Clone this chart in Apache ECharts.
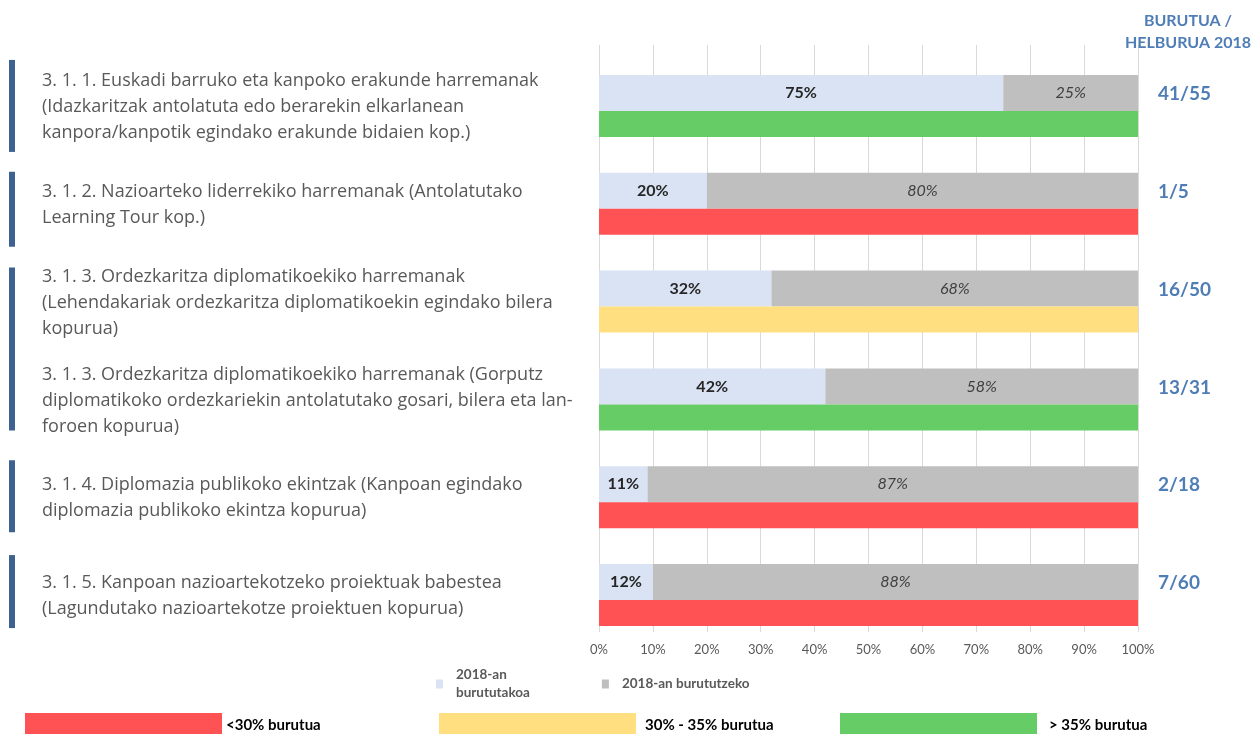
<!DOCTYPE html>
<html>
<head>
<meta charset="utf-8">
<script src="https://cdn.jsdelivr.net/npm/echarts@6/dist/echarts.min.js"></script>
<style>
html, body { margin: 0; padding: 0; background: #fff; }
#container { width: 1253px; height: 734px; }
</style>
</head>
<body>
<div id="container"></div>
<script>
// adierazleak (ezkerreko testuak)
var categories = [
    '3. 1. 1. Euskadi barruko eta kanpoko erakunde harremanak\n(Idazkaritzak antolatuta edo berarekin elkarlanean\nkanpora/kanpotik egindako erakunde bidaien kop.)',
    '3. 1. 2. Nazioarteko liderrekiko harremanak (Antolatutako\nLearning Tour kop.)',
    '3. 1. 3. Ordezkaritza diplomatikoekiko harremanak\n(Lehendakariak ordezkaritza diplomatikoekin egindako bilera\nkopurua)',
    '3. 1. 3. Ordezkaritza diplomatikoekiko harremanak (Gorputz\ndiplomatikoko ordezkariekin antolatutako gosari, bilera eta lan-\nforoen kopurua)',
    '3. 1. 4. Diplomazia publikoko ekintzak (Kanpoan egindako\ndiplomazia publikoko ekintza kopurua)',
    '3. 1. 5. Kanpoan nazioartekotzeko proiektuak babestea\n(Lagundutako nazioartekotze proiektuen kopurua)'
];
var ratios = ['41/55', '1/5', '16/50', '13/31', '2/18', '7/60'];

// barren luzerak (irudian neurtuta)
var doneValues   = [75, 20, 32, 42, 9, 10];
var remainValues = [25, 80, 68, 58, 91, 90];
// barren gaineko testuak
var doneLabels   = ['75%', '20%', '32%', '42%', '11%', '12%'];
var remainLabels = ['25%', '80%', '68%', '58%', '87%', '88%'];

// egoera barrak: '-' = ez dago
var redValues    = ['-', 100, '-', '-', 100, 100];
var yellowValues = ['-', '-', 100, '-', '-', '-'];
var greenValues  = [100, '-', '-', 100, '-', '-'];

var xTicks = [0, 10, 20, 30, 40, 50, 60, 70, 80, 90, 100];

var dom = document.getElementById("container");
var myChart = echarts.init(dom);
var font = 'Lato, "Open Sans", sans-serif';
var textFont = '"Open Sans", Lato, sans-serif';

var option = {
    animation: false,
    textStyle: { fontFamily: font },
    title: {
        text: 'BURUTUA /\nHELBURUA 2018',
        left: 1188,
        top: 10,
        padding: 0,
        textAlign: 'center',
        textStyle: {
            fontFamily: font,
            fontSize: 16,
            fontWeight: 'bold',
            color: '#4F7DB6',
            lineHeight: 22
        }
    },
    grid: { left: 599, right: 115, top: 45, bottom: 102, containLabel: false },
    xAxis: {
        type: 'value',
        min: xTicks[0],
        max: xTicks[xTicks.length - 1],
        interval: 10,
        axisLine: { show: false },
        axisTick: { show: false },
        splitLine: { lineStyle: { color: '#D9D9D9', width: 1 } },
        axisLabel: {
            formatter: '{value}%',
            color: '#595959',
            fontSize: 13,
            margin: 11,
            fontFamily: font
        }
    },
    yAxis: [{
        type: 'category',
        data: categories,
        inverse: true,
        axisLine: { show: false },
        axisTick: { show: false },
        axisLabel: {
            align: 'left',
            margin: 557,
            color: '#595959',
            fontSize: 18,
            lineHeight: 26,
            fontFamily: textFont,
            // testua pixka bat beherago
            formatter: function (v) { return '\n' + v; }
        }
    }, {
        type: 'category',
        data: ratios,
        inverse: true,
        position: 'right',
        axisLine: { show: false },
        axisTick: { show: false },
        axisLabel: {
            align: 'left',
            margin: 20,
            color: '#4F7DB6',
            fontSize: 19,
            fontWeight: 'bold',
            fontFamily: font
        }
    }],
    legend: [{
        data: ['2018-an\nburututakoa', '2018-an burututzeko'],
        left: 436,
        top: 666,
        padding: 0,
        icon: 'rect',
        itemWidth: 7,
        itemHeight: 9,
        itemGap: 72,
        selectedMode: false,
        textStyle: { color: '#595959', fontSize: 13.5, fontWeight: 'bold', lineHeight: 18, padding: [0, 0, 0, 8], fontFamily: font }
    }, {
        data: ['<30% burutua'],
        left: 25, top: 713, padding: 0,
        icon: 'rect', itemWidth: 197, itemHeight: 24,
        selectedMode: false,
        textStyle: { color: '#000', fontSize: 15, fontWeight: 'bold', fontFamily: font, padding: [2, 0, 0, -1] }
    }, {
        data: ['30% - 35% burutua'],
        left: 439, top: 713, padding: 0,
        icon: 'rect', itemWidth: 197, itemHeight: 24,
        selectedMode: false,
        textStyle: { color: '#000', fontSize: 15, fontWeight: 'bold', fontFamily: font, padding: [2, 0, 0, 4] }
    }, {
        data: ['> 35% burutua'],
        left: 840, top: 713, padding: 0,
        icon: 'rect', itemWidth: 197, itemHeight: 24,
        selectedMode: false,
        textStyle: { color: '#000', fontSize: 15, fontWeight: 'bold', fontFamily: font, padding: [2, 0, 0, 7] }
    }],
    series: [
        {   // hutsunea barren gainean
            name: 'spacer',
            type: 'bar',
            stack: 'sp',
            barWidth: 24,
            barGap: 0,
            silent: true,
            itemStyle: { color: 'rgba(0,0,0,0)' },
            data: [0, 0, 0, 0, 0, 0]
        },
        {
            name: '2018-an\nburututakoa',
            type: 'bar',
            stack: 'a',
            barWidth: 36,
            barGap: 0,
            itemStyle: { color: '#DAE3F3' },
            label: {
                show: true,
                position: 'inside',
                color: '#262626',
                fontSize: 16,
                fontWeight: 'bold',
                fontFamily: font,
                formatter: function (p) { return doneLabels[p.dataIndex]; }
            },
            data: doneValues
        },
        {
            name: '2018-an burututzeko',
            type: 'bar',
            stack: 'a',
            barWidth: 36,
            barGap: 0,
            itemStyle: { color: '#BFBFBF' },
            label: {
                show: true,
                position: 'inside',
                color: '#404040',
                fontSize: 16,
                fontStyle: 'italic',
                fontFamily: font,
                formatter: function (p) { return remainLabels[p.dataIndex]; }
            },
            data: remainValues
        },
        {
            name: '<30% burutua',
            type: 'bar',
            stack: 'b',
            barWidth: 26,
            barGap: 0,
            itemStyle: { color: '#FF5254' },
            data: redValues
        },
        {
            name: '30% - 35% burutua',
            type: 'bar',
            stack: 'b',
            barWidth: 26,
            barGap: 0,
            itemStyle: { color: '#FFDF80' },
            data: yellowValues
        },
        {
            name: '> 35% burutua',
            type: 'bar',
            stack: 'b',
            barWidth: 26,
            barGap: 0,
            itemStyle: { color: '#66CC66' },
            data: greenValues
        }
    ]
};
myChart.setOption(option);

// ezkerreko marra urdinak: [lehen adierazlea, azken adierazlea, goian, behean]
var sideBars = [[0, 0, -34, 58], [1, 1, -20, 55], [2, 3, -22, 43], [4, 4, -25, 47], [5, 5, -28, 45]];
var graphics = [];
for (var k = 0; k < sideBars.length; k++) {
    var yTop = myChart.convertToPixel({ yAxisIndex: 0 }, categories[sideBars[k][0]]) + sideBars[k][2];
    var yBot = myChart.convertToPixel({ yAxisIndex: 0 }, categories[sideBars[k][1]]) + sideBars[k][3];
    graphics.push({
        type: 'rect',
        shape: { x: 9, y: yTop, width: 6, height: yBot - yTop },
        style: { fill: '#3D6190' },
        silent: true
    });
}
myChart.setOption({ graphic: graphics });

window.addEventListener("resize", function () {
    myChart.resize();
});
</script>
</body>
</html>
